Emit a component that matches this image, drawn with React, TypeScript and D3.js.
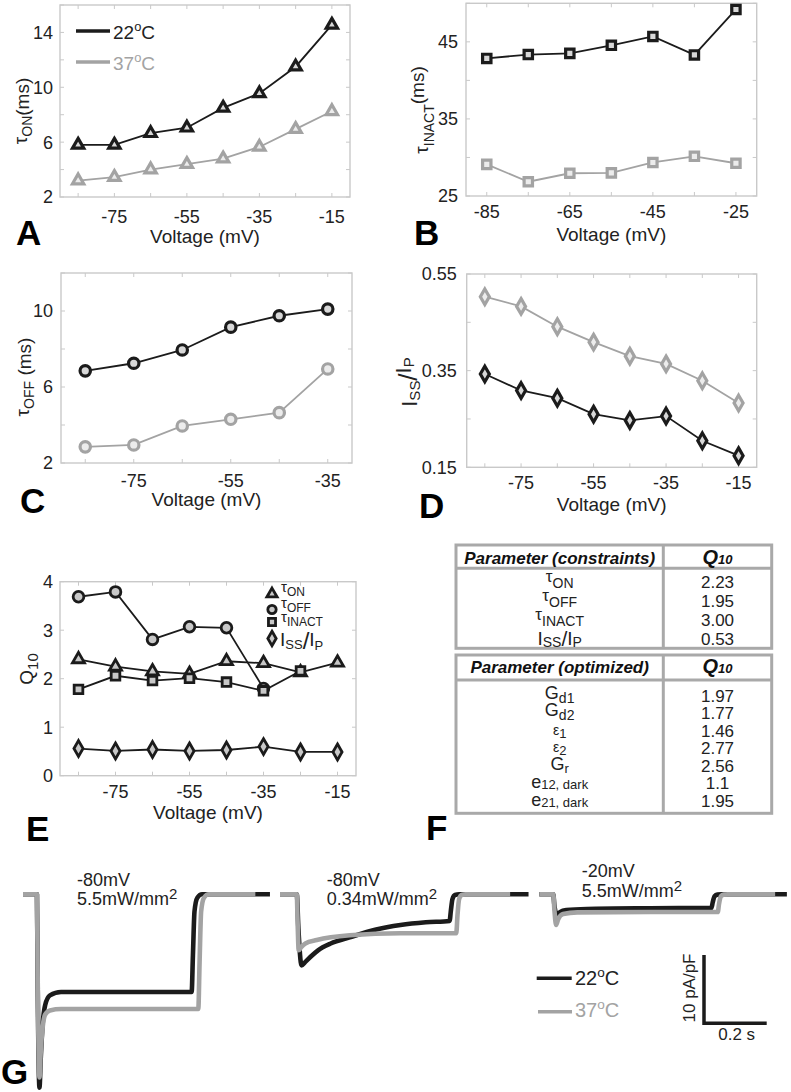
import React from "react";
import * as d3 from "d3";

const FONT = "'Liberation Sans', Arial, Helvetica, sans-serif";
const BLACK = "#1b1b1b";
const GRAY = "#a3a3a3";
const FRAME = "#c9c9c9";
const TXT = "#222";

// ---------------- data ----------------
const voltAD = [-85, -75, -65, -55, -45, -35, -25, -15];
const voltB = [-85, -75, -65, -55, -45, -35, -25];
const voltC = [-85, -75, -65, -55, -45, -35];

// A: tau ON (ms)
const tauOn22 = [5.8, 5.8, 6.65, 7.05, 8.5, 9.55, 11.5, 14.55];
const tauOn37 = [3.2, 3.45, 4.0, 4.4, 4.8, 5.65, 6.95, 8.25];
// B: tau INACT (ms)
const tauInact22 = [42.85, 43.35, 43.5, 44.55, 45.7, 43.3, 49.2];
const tauInact37 = [29.1, 26.85, 27.95, 28.0, 29.35, 30.15, 29.25];
// C: tau OFF (ms)
const tauOff22 = [6.85, 7.25, 7.95, 9.15, 9.75, 10.1];
const tauOff37 = [2.85, 2.95, 3.95, 4.3, 4.65, 6.95];
// D: Iss/Ip
const ratio22 = [0.343, 0.309, 0.293, 0.26, 0.247, 0.256, 0.205, 0.174];
const ratio37 = [0.503, 0.483, 0.441, 0.409, 0.38, 0.364, 0.329, 0.283];
// E: Q10
const q10TauOn = [2.4, 2.25, 2.15, 2.1, 2.36, 2.32, 2.13, 2.33];
const q10TauOff = [3.69, 3.79, 2.81, 3.07, 3.05, 1.8];
const q10TauInact = [1.78, 2.06, 1.96, 2.01, 1.93, 1.75, 2.16];
const q10Ratio = [0.56, 0.51, 0.54, 0.51, 0.53, 0.6, 0.49, 0.49];

// ticks
const xTicksAD = [-85, -75, -65, -55, -45, -35, -25, -15];
const xLabelsAD = [-75, -55, -35, -15];
const xTicksB = [-85, -75, -65, -55, -45, -35, -25];
const xLabelsB = [-85, -65, -45, -25];
const xTicksC = [-85, -75, -65, -55, -45, -35];
const xLabelsC = [-75, -55, -35];
const yTicksA = [2, 4, 6, 8, 10, 12, 14, 16];
const yLabelsA = [2, 6, 10, 14];
const yTicksB = [25, 30, 35, 40, 45, 50];
const yLabelsB = [25, 35, 45];
const yTicksC = [2, 4, 6, 8, 10, 12];
const yLabelsC = [2, 6, 10];
const yTicksD = [0.15, 0.25, 0.35, 0.45, 0.55];
const yLabelsD = [0.15, 0.35, 0.55];
const yTicksE = [0, 1, 2, 3, 4];
const yLabelsE = [0, 1, 2, 3, 4];

// F: tables
const constraintQ10 = ["2.23", "1.95", "3.00", "0.53"];
const optimizedQ10 = ["1.97", "1.77", "1.46", "2.77", "2.56", "1.1", "1.95"];

// G: current traces (time s, current pA/pF)
const g1T22 = [0, 0.044, 0.0465, 0.052, 0.056, 0.062, 0.07, 0.085, 0.12, 0.532, 0.536, 0.541, 0.55, 0.565, 0.779];
const g1I22 = [0, 0, -14, -28.3, -24, -19, -16.2, -14.8, -14.3, -14.3, -9, -2.5, -0.5, 0, 0];
const g1T37 = [0, 0.044, 0.0465, 0.052, 0.056, 0.062, 0.07, 0.085, 0.12, 0.553, 0.557, 0.562, 0.571, 0.586, 0.733];
const g1I37 = [0, 0, -13, -26.8, -23, -19.5, -17.6, -17.0, -16.8, -16.8, -10, -2.5, -0.5, 0, 0];
const g2T22 = [0, 0.053, 0.058, 0.068, 0.08, 0.1, 0.12, 0.16, 0.22, 0.3, 0.38, 0.46, 0.535, 0.539, 0.544, 0.552, 0.565, 0.784];
const g2I22 = [0, 0, -5, -10.4, -9.9, -9.0, -8.2, -7.2, -6.3, -5.2, -4.5, -4.1, -3.9, -2.4, -0.7, -0.1, 0, 0];
const g2T37 = [0, 0.053, 0.0555, 0.059, 0.066, 0.08, 0.116, 0.22, 0.38, 0.556, 0.56, 0.565, 0.573, 0.585, 0.726];
const g2I37 = [0, 0, -4, -8.2, -7.8, -7.2, -6.7, -6.0, -5.7, -5.7, -3, -0.7, -0.1, 0, 0];
const g3T22 = [0, 0.044, 0.048, 0.056, 0.065, 0.085, 0.15, 0.35, 0.543, 0.547, 0.553, 0.562, 0.575, 0.781];
const g3I22 = [0, 0, -1.8, -3.0, -2.6, -2.3, -2.15, -2.05, -2.0, -1.2, -0.3, -0.05, 0, 0];
const g3T37 = [0, 0.044, 0.048, 0.053, 0.06, 0.075, 0.12, 0.35, 0.563, 0.567, 0.573, 0.582, 0.595, 0.744];
const g3I37 = [0, 0, -2.5, -4.5, -3.6, -2.9, -2.65, -2.6, -2.6, -1.4, -0.3, -0.05, 0, 0];

// ---------------- helpers ----------------
type Box = { l: number; r: number; t: number; b: number };
type SeriesSpec = {
  xs: number[];
  ys: number[];
  stroke: string;
  fill: string;
  symbol: d3.SymbolType;
  size: number;
  sw: number;
  lw: number;
};

function Panel(p: {
  box: Box;
  xDomain: [number, number];
  yDomain: [number, number];
  xTicks: number[];
  xLabels: number[];
  yTicks: number[];
  yLabels: number[];
  yFmt: (v: number) => string;
  xTickBase: number;
  titleBase: number;
  yGap: number;
  series: SeriesSpec[];
}) {
  const { box } = p;
  const x = d3.scaleLinear().domain(p.xDomain).range([box.l, box.r]);
  const y = d3.scaleLinear().domain(p.yDomain).range([box.b, box.t]);
  const tl = 4;
  return (
    <g>
      <rect x={box.l} y={box.t} width={box.r - box.l} height={box.b - box.t} fill="none" stroke={FRAME} strokeWidth={1.4} />
      {p.xTicks.map((v) => (
        <g key={"xt" + v} stroke={FRAME} strokeWidth={1}>
          <line x1={x(v)} x2={x(v)} y1={box.b} y2={box.b - tl} />
          <line x1={x(v)} x2={x(v)} y1={box.t} y2={box.t + tl} />
        </g>
      ))}
      {p.yTicks.map((v) => (
        <g key={"yt" + v} stroke={FRAME} strokeWidth={1}>
          <line x1={box.l} x2={box.l + tl} y1={y(v)} y2={y(v)} />
          <line x1={box.r} x2={box.r - tl} y1={y(v)} y2={y(v)} />
        </g>
      ))}
      {p.xLabels.map((v) => (
        <text key={"xl" + v} x={x(v)} y={p.xTickBase} textAnchor="middle" fontSize={18} fill={TXT}>
          {String(v)}
        </text>
      ))}
      {p.yLabels.map((v) => (
        <text key={"yl" + v} x={box.l - p.yGap} y={y(v)} dy="0.36em" textAnchor="end" fontSize={18} fill={TXT}>
          {p.yFmt(v)}
        </text>
      ))}
      <text x={(box.l + box.r) / 2} y={p.titleBase} textAnchor="middle" fontSize={19} fill={TXT}>
        Voltage (mV)
      </text>
      {p.series.map((s, i) => {
        const pts = s.xs.map((v, j) => [x(v), y(s.ys[j])] as [number, number]);
        return <path key={"ln" + i} d={d3.line()(pts) || ""} fill="none" stroke={s.stroke} strokeWidth={s.lw} />;
      })}
      {p.series.map((s, i) => {
        const sym = d3.symbol().type(s.symbol).size(s.size)() || "";
        return (
          <g key={"mk" + i}>
            {s.xs.map((v, j) => (
              <path
                key={j}
                d={sym}
                transform={`translate(${x(v)},${y(s.ys[j])})`}
                fill={s.fill}
                stroke={s.stroke}
                strokeWidth={s.sw}
                strokeLinejoin="miter"
              />
            ))}
          </g>
        );
      })}
    </g>
  );
}

const fmtInt = (v: number) => String(v);
const fmt2 = d3.format(".2f");

function blk(xs: number[], ys: number[], symbol: d3.SymbolType, size: number): SeriesSpec {
  return { xs, ys, stroke: BLACK, fill: "#d8d8d8", symbol, size, sw: 3.2, lw: 1.8 };
}
function gry(xs: number[], ys: number[], symbol: d3.SymbolType, size: number): SeriesSpec {
  return { xs, ys, stroke: GRAY, fill: "#ececec", symbol, size, sw: 3.2, lw: 1.8 };
}
function eSer(xs: number[], ys: number[], symbol: d3.SymbolType, size: number): SeriesSpec {
  return { xs, ys, stroke: BLACK, fill: "#c8c8c8", symbol, size, sw: 2.8, lw: 1.8 };
}

function Trace(p: { x0: number; ts: number[]; is: number[]; color: string }) {
  const tx = d3.scaleLinear().domain([0, 1]).range([p.x0, p.x0 + 317]);
  const iy = d3.scaleLinear().domain([0, -10]).range([894.3, 962.6]);
  const pts = p.ts.map((t, i) => [tx(t), iy(p.is[i])] as [number, number]);
  const d = d3.line().curve(d3.curveMonotoneX)(pts) || "";
  return <path d={d} fill="none" stroke={p.color} strokeWidth={4.6} strokeLinejoin="round" />;
}

function Deg(p: { x: number; y: number; label: string; color: string; size: number }) {
  return (
    <text x={p.x} y={p.y} fontSize={p.size} fill={p.color}>
      {p.label}
      <tspan fontSize={p.size * 0.68} dy={-p.size * 0.42}>o</tspan>
      <tspan dy={p.size * 0.42}>C</tspan>
    </text>
  );
}

function Sup2(p: { x: number; y: number; text: string }) {
  return (
    <text x={p.x} y={p.y} fontSize={18} fill={TXT}>
      {p.text}
      <tspan fontSize={15} dy={-6}>2</tspan>
    </text>
  );
}

// ---------------- app ----------------
export default function App() {
  const tx1 = 456, tx2 = 771.7, tcol = 663.3;
  const lcx = (tx1 + tcol) / 2;
  const vcx = (tcol + tx2) / 2;
  const rowY1 = d3.scaleLinear().domain([0, 3]).range([587.5, 645]);
  const rowY2 = d3.scaleLinear().domain([0, 6]).range([701.7, 806.7]);
  const TB = "#a9a9a9";

  return (
    <svg
      width={791}
      height={1092}
      style={{ position: "absolute", left: 0, top: 0, background: "#fff" }}
      fontFamily={FONT}
    >
      <rect x={0} y={0} width={791} height={1092} fill="#fff" />

      {/* A */}
      <Panel
        box={{ l: 60, r: 350, t: 5, b: 197 }}
        xDomain={[-90, -10]}
        yDomain={[2, 16]}
        xTicks={xTicksAD}
        xLabels={xLabelsAD}
        yTicks={yTicksA}
        yLabels={yLabelsA}
        yFmt={fmtInt}
        xTickBase={223}
        titleBase={243}
        yGap={7}
        series={[blk(voltAD, tauOn22, d3.symbolTriangle, 55), gry(voltAD, tauOn37, d3.symbolTriangle, 55)]}
      />
      <line x1={76} x2={110} y1={31} y2={31} stroke={BLACK} strokeWidth={3.5} />
      <Deg x={113} y={38.5} label="22" color={TXT} size={19} />
      <line x1={76} x2={110} y1={62} y2={62} stroke={GRAY} strokeWidth={3.5} />
      <Deg x={113} y={70} label="37" color={GRAY} size={19} />
      <text transform="translate(27,111) rotate(-90)" textAnchor="middle" fontSize={19} fill={TXT}>
        τ<tspan fontSize={14} dy={5}>ON</tspan>
        <tspan dy={-3}>(ms)</tspan>
      </text>

      {/* B */}
      <Panel
        box={{ l: 466, r: 756.7, t: 3.3, b: 196 }}
        xDomain={[-90, -20]}
        yDomain={[25, 50]}
        xTicks={xTicksB}
        xLabels={xLabelsB}
        yTicks={yTicksB}
        yLabels={yLabelsB}
        yFmt={fmtInt}
        xTickBase={218}
        titleBase={241}
        yGap={8}
        series={[blk(voltB, tauInact22, d3.symbolSquare, 70), gry(voltB, tauInact37, d3.symbolSquare, 70)]}
      />
      <text transform="translate(428,110) rotate(-90)" textAnchor="middle" fontSize={19} fill={TXT}>
        τ<tspan fontSize={14} dy={6}>INACT</tspan>
        <tspan dy={-10}>(ms)</tspan>
      </text>

      {/* C */}
      <Panel
        box={{ l: 61, r: 352, t: 273, b: 463 }}
        xDomain={[-90, -30]}
        yDomain={[2, 12]}
        xTicks={xTicksC}
        xLabels={xLabelsC}
        yTicks={yTicksC}
        yLabels={yLabelsC}
        yFmt={fmtInt}
        xTickBase={487}
        titleBase={506}
        yGap={8}
        series={[blk(voltC, tauOff22, d3.symbolCircle, 85), gry(voltC, tauOff37, d3.symbolCircle, 85)]}
      />
      <text transform="translate(29,377) rotate(-90)" textAnchor="middle" fontSize={19} fill={TXT}>
        τ<tspan fontSize={14} dy={5}>OFF</tspan>
        <tspan dy={-3}> (ms)</tspan>
      </text>

      {/* D */}
      <Panel
        box={{ l: 466.7, r: 756.7, t: 274, b: 467.3 }}
        xDomain={[-90, -10]}
        yDomain={[0.15, 0.55]}
        xTicks={xTicksAD}
        xLabels={xLabelsAD}
        yTicks={yTicksD}
        yLabels={yLabelsD}
        yFmt={(v) => fmt2(v)}
        xTickBase={489}
        titleBase={511}
        yGap={10}
        series={[blk(voltAD, ratio22, d3.symbolDiamond, 70), gry(voltAD, ratio37, d3.symbolDiamond, 70)]}
      />
      <text transform="translate(417,382) rotate(-90)" textAnchor="middle" fontSize={22} fill={TXT}>
        I<tspan fontSize={15} dy={3}>SS</tspan>
        <tspan fontSize={26} dy={-3}>/</tspan>
        <tspan dy={-6}>I</tspan>
        <tspan fontSize={15} dy={3}>P</tspan>
      </text>

      {/* E */}
      <Panel
        box={{ l: 60, r: 356, t: 581.7, b: 775.7 }}
        xDomain={[-90, -10]}
        yDomain={[0, 4]}
        xTicks={xTicksAD}
        xLabels={xLabelsAD}
        yTicks={yTicksE}
        yLabels={yLabelsE}
        yFmt={fmtInt}
        xTickBase={798}
        titleBase={819}
        yGap={7}
        series={[
          eSer(voltAD, q10TauOn, d3.symbolTriangle, 62),
          eSer(voltC, q10TauOff, d3.symbolCircle, 90),
          eSer(voltB, q10TauInact, d3.symbolSquare, 75),
          eSer(voltAD, q10Ratio, d3.symbolDiamond, 72),
        ]}
      />
      <text transform="translate(33,669) rotate(-90)" textAnchor="middle" fontSize={19} fill={TXT}>
        Q<tspan fontSize={15} dy={5}>10</tspan>
      </text>
      {/* E legend */}
      <g stroke={BLACK} strokeWidth={2.8} fill="#c8c8c8">
        <path d={d3.symbol().type(d3.symbolTriangle).size(45)() || ""} transform="translate(272,594)" />
        <path d={d3.symbol().type(d3.symbolCircle).size(55)() || ""} transform="translate(272,609.5)" />
        <path d={d3.symbol().type(d3.symbolSquare).size(50)() || ""} transform="translate(272,622)" />
        <path d={d3.symbol().type(d3.symbolDiamond).size(60)() || ""} transform="translate(272,638.5)" />
      </g>
      <text x={281} y={592} fontSize={15} fill={TXT}>
        τ<tspan fontSize={12} dy={4}>ON</tspan>
      </text>
      <text x={281} y={608} fontSize={15} fill={TXT}>
        τ<tspan fontSize={12} dy={4}>OFF</tspan>
      </text>
      <text x={281} y={622} fontSize={15} fill={TXT}>
        τ<tspan fontSize={12} dy={4}>INACT</tspan>
      </text>
      <text x={280} y={646} fontSize={19} fill={TXT}>
        I<tspan fontSize={13} dy={3}>SS</tspan>
        <tspan fontSize={24} dy={0}>/</tspan>
        <tspan fontSize={19} dy={-3}>I</tspan>
        <tspan fontSize={13} dy={4}>P</tspan>
      </text>

      {/* F tables */}
      <g fill="none" stroke={TB} strokeWidth={3}>
        <rect x={tx1} y={545} width={tx2 - tx1} height={648.3 - 545} />
        <line x1={tx1} x2={tx2} y1={568.3} y2={568.3} />
        <line x1={tcol} x2={tcol} y1={545} y2={648.3} />
        <rect x={tx1} y={655} width={tx2 - tx1} height={813.3 - 655} />
        <line x1={tx1} x2={tx2} y1={680} y2={680} />
        <line x1={tcol} x2={tcol} y1={655} y2={813.3} />
      </g>
      <text x={lcx} y={564} textAnchor="middle" fontSize={17} fontWeight="bold" fontStyle="italic" fill="#111">
        Parameter (constraints)
      </text>
      <text x={vcx} y={564} textAnchor="middle" fontSize={20} fontWeight="bold" fontStyle="italic" fill="#111">
        Q<tspan fontSize={13}>10</tspan>
      </text>
      <text x={lcx} y={673} textAnchor="middle" fontSize={17} fontWeight="bold" fontStyle="italic" fill="#111">
        Parameter (optimized)
      </text>
      <text x={vcx} y={673} textAnchor="middle" fontSize={20} fontWeight="bold" fontStyle="italic" fill="#111">
        Q<tspan fontSize={13}>10</tspan>
      </text>
      {constraintQ10.map((v, i) => (
        <text key={"cq" + i} x={vcx} y={rowY1(i)} textAnchor="middle" fontSize={17} fill={TXT}>
          {v}
        </text>
      ))}
      {optimizedQ10.map((v, i) => (
        <text key={"oq" + i} x={vcx} y={rowY2(i)} textAnchor="middle" fontSize={17} fill={TXT}>
          {v}
        </text>
      ))}
      {/* constraint labels */}
      <text x={lcx} y={rowY1(0) - 6} textAnchor="middle" fontSize={17} fill={TXT}>
        τ<tspan fontSize={14} dy={6}>ON</tspan>
      </text>
      <text x={lcx} y={rowY1(1) - 6} textAnchor="middle" fontSize={17} fill={TXT}>
        τ<tspan fontSize={14} dy={6}>OFF</tspan>
      </text>
      <text x={lcx} y={rowY1(2) - 6} textAnchor="middle" fontSize={17} fill={TXT}>
        τ<tspan fontSize={14} dy={6}>INACT</tspan>
      </text>
      <text x={lcx} y={rowY1(3)} textAnchor="middle" fontSize={19} fill={TXT}>
        I<tspan fontSize={14} dy={2}>SS</tspan>
        <tspan fontSize={21} dy={-1}>/</tspan>
        <tspan fontSize={19} dy={-1}>I</tspan>
        <tspan fontSize={14} dy={2}>P</tspan>
      </text>
      {/* optimized labels */}
      <text x={lcx} y={rowY2(0) - 3} textAnchor="middle" fontSize={18} fill={TXT}>
        G<tspan fontSize={14} dy={4}>d1</tspan>
      </text>
      <text x={lcx} y={rowY2(1) - 3} textAnchor="middle" fontSize={18} fill={TXT}>
        G<tspan fontSize={14} dy={4}>d2</tspan>
      </text>
      <text x={lcx} y={rowY2(2) - 2} textAnchor="middle" fontSize={14} fill={TXT}>
        ε<tspan fontSize={13} dy={3}>1</tspan>
      </text>
      <text x={lcx} y={rowY2(3) - 2} textAnchor="middle" fontSize={14} fill={TXT}>
        ε<tspan fontSize={13} dy={3}>2</tspan>
      </text>
      <text x={lcx} y={rowY2(4) - 2} textAnchor="middle" fontSize={18} fill={TXT}>
        G<tspan fontSize={13} dy={3}>r</tspan>
      </text>
      <text x={lcx} y={rowY2(5) - 1} textAnchor="middle" fontSize={18} fill={TXT}>
        e<tspan fontSize={13} dy={1}>12, dark</tspan>
      </text>
      <text x={lcx} y={rowY2(6) - 1} textAnchor="middle" fontSize={18} fill={TXT}>
        e<tspan fontSize={13} dy={1}>21, dark</tspan>
      </text>

      {/* G traces */}
      <Trace x0={23} ts={g1T22} is={g1I22} color={BLACK} />
      <Trace x0={23} ts={g1T37} is={g1I37} color={GRAY} />
      <Trace x0={280} ts={g2T22} is={g2I22} color={BLACK} />
      <Trace x0={280} ts={g2T37} is={g2I37} color={GRAY} />
      <Trace x0={539.3} ts={g3T22} is={g3I22} color={BLACK} />
      <Trace x0={539.3} ts={g3T37} is={g3I37} color={GRAY} />

      <text x={77} y={886} fontSize={18} fill={TXT}>-80mV</text>
      <Sup2 x={77} y={905} text="5.5mW/mm" />
      <text x={326.7} y={886} fontSize={18} fill={TXT}>-80mV</text>
      <Sup2 x={326.7} y={905} text="0.34mW/mm" />
      <text x={581.7} y={876.7} fontSize={18} fill={TXT}>-20mV</text>
      <Sup2 x={581.7} y={896.7} text="5.5mW/mm" />

      {/* G legend */}
      <line x1={536.7} x2={571.7} y1={978.3} y2={978.3} stroke={BLACK} strokeWidth={3.5} />
      <Deg x={575} y={985} label="22" color={TXT} size={20} />
      <line x1={538} x2={572} y1={1011.7} y2={1011.7} stroke={GRAY} strokeWidth={3.5} />
      <Deg x={575} y={1017} label="37" color={GRAY} size={20} />

      {/* scale bar */}
      <path d="M704,955 L704,1023.3 L766.7,1023.3" fill="none" stroke={BLACK} strokeWidth={3.5} />
      <text transform="translate(695,988) rotate(-90)" textAnchor="middle" fontSize={17} fill={TXT}>
        10 pA/pF
      </text>
      <text x={736.7} y={1040} textAnchor="middle" fontSize={17} fill={TXT}>
        0.2 s
      </text>

      {/* panel letters */}
      <g fontSize={35} fontWeight="bold" fill="#000">
        <text x={16} y={245}>A</text>
        <text x={414} y={245}>B</text>
        <text x={20} y={513}>C</text>
        <text x={419} y={518}>D</text>
        <text x={26} y={841}>E</text>
        <text x={426} y={840}>F</text>
        <text x={1} y={1084}>G</text>
      </g>
    </svg>
  );
}
